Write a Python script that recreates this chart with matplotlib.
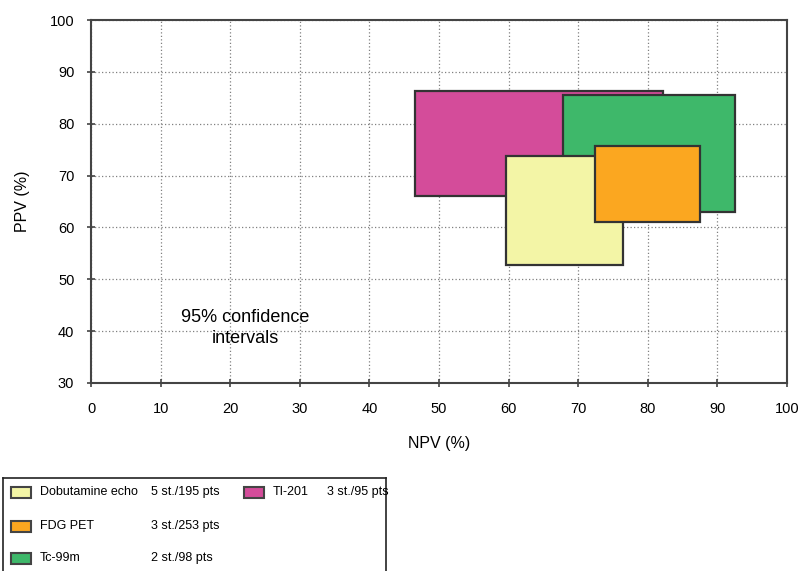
import matplotlib
matplotlib.use("Agg")
import matplotlib.pyplot as plt
from matplotlib.patches import Rectangle

plt.rcParams['font.family'] = ['Liberation Sans', 'DejaVu Sans']

# Data: 95% confidence intervals (NPV range, PPV range)
methods = ["Tl-201", "Tc-99m", "Dobutamine echo", "FDG PET"]
npv_low = [46.5, 67.8, 59.6, 72.4]
npv_high = [82.2, 92.5, 76.5, 87.5]
ppv_low = [66.0, 63.0, 52.8, 61.1]
ppv_high = [86.3, 85.5, 73.8, 75.7]
colors = ["#D44C9A", "#3EB86A", "#F3F5A6", "#FBA720"]

legend_labels = ["Dobutamine echo", "FDG PET", "Tc-99m", "TI-201"]
legend_counts = ["5 st./195 pts", "3 st./253 pts", "2 st./98 pts", "3 st./95 pts"]
legend_colors = ["#F3F5A6", "#FBA720", "#3EB86A", "#D44C9A"]

x_ticks = list(range(0, 101, 10))
y_ticks = list(range(30, 101, 10))

W, H = 799, 571
fig = plt.figure(figsize=(W / 100, H / 100), dpi=100)
ax = fig.add_axes([91 / W, 1 - 383 / H, (787 - 91) / W, (383 - 20) / H])

ax.set_xlim(0, 100)
ax.set_ylim(30, 100)
ax.set_xticks(x_ticks)
ax.set_yticks(y_ticks)
ax.grid(True, linestyle=(0, (1.0, 1.8)), color="#808080", linewidth=0.9)
ax.set_axisbelow(True)
for s in ax.spines.values():
    s.set_color("#444444")
    s.set_linewidth(1.5)
ax.tick_params(direction="inout", length=6, width=1.2, color="#444444",
               labelsize=10.5)
ax.tick_params(axis="x", pad=11)
ax.tick_params(axis="y", pad=9)

for i in range(len(methods)):
    ax.add_patch(Rectangle((npv_low[i], ppv_low[i]),
                           npv_high[i] - npv_low[i], ppv_high[i] - ppv_low[i],
                           facecolor=colors[i], edgecolor="#333333",
                           linewidth=1.6, zorder=3 + i))

ax.set_xlabel("NPV (%)", fontsize=11.5, labelpad=14)
ax.set_ylabel("PPV (%)", fontsize=11.5, labelpad=14)

ax.text(22.2, 40.6, "95% confidence\nintervals", ha="center", va="center",
        fontsize=13, linespacing=1.25, zorder=10)

# Legend box (pixel coordinates)
lax = fig.add_axes([3 / W, 0, (386 - 3) / W, (571 - 478) / H])
lax.set_xlim(0, 383)
lax.set_ylim(93, 0)
lax.set_xticks([])
lax.set_yticks([])
for k, s in lax.spines.items():
    s.set_color("#222222")
    s.set_linewidth(1.2)
lax.spines["bottom"].set_visible(False)

rows_y = [14, 48, 80, 14]
sw_x = [8, 8, 8, 241]
lab_x = [37, 37, 37, 270]
cnt_x = [148, 148, 148, 324]
for i in range(len(legend_labels)):
    lax.add_patch(Rectangle((sw_x[i], rows_y[i] - 5.5), 20, 11,
                            facecolor=legend_colors[i], edgecolor="#444444",
                            linewidth=1.5))
    lax.text(lab_x[i], rows_y[i], legend_labels[i], va="center", ha="left",
             fontsize=9)
    lax.text(cnt_x[i], rows_y[i], legend_counts[i], va="center", ha="left",
             fontsize=9)

fig.savefig("out.png", dpi=100)
